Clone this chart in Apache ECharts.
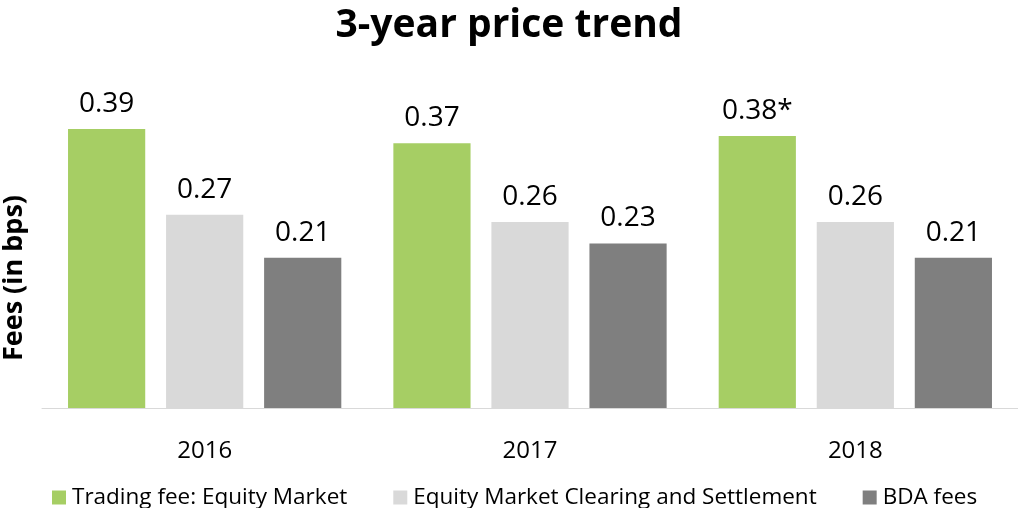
<!DOCTYPE html>
<html>
<head>
<meta charset="utf-8">
<script src="https://cdn.jsdelivr.net/npm/echarts@6/dist/echarts.min.js"></script>
<style>
  html, body { margin: 0; padding: 0; background: #fff; }
  #chart { width: 1018px; height: 508px; }
</style>
</head>
<body>
<div id="chart"></div>
<script>
// Fee levels per year, in basis points
const years = ['2016', '2017', '2018'];
const tradingFee = [0.39, 0.37, 0.38];
const clearingSettlement = [0.27, 0.26, 0.26];
const bdaFees = [0.21, 0.23, 0.21];
// 2018 trading fee carries a footnote marker
const tradingLabels = ['0.39', '0.37', '0.38*'];

const FONT = '"Open Sans", Lato, sans-serif';

function labelStyle(texts) {
  return {
    show: true,
    position: 'top',
    distance: 11,
    fontFamily: FONT,
    fontSize: 28,
    color: '#000',
    formatter: texts ? (p) => texts[p.dataIndex] : (p) => p.value.toFixed(2)
  };
}

const chart = echarts.init(document.getElementById('chart'));
chart.setOption({
  animation: false,
  title: {
    text: '3-year price trend',
    left: 'center',
    top: 1,
    textStyle: { fontFamily: FONT, fontSize: 39, fontWeight: 'bold', color: '#000' }
  },
  legend: {
    bottom: -6,
    left: 47,
    itemWidth: 14,
    itemHeight: 14,
    itemGap: 46,
    icon: 'rect',
    textStyle: { fontFamily: FONT, fontSize: 22.5, color: '#000', padding: [0, 0, 0, 1] },
    data: ['Trading fee: Equity Market', 'Equity Market Clearing and Settlement', 'BDA fees']
  },
  grid: { left: 42, right: 0, top: 86, bottom: 100, containLabel: false },
  graphic: [{
    type: 'text',
    left: 1,
    top: 195,
    rotation: Math.PI / 2,
    style: {
      text: 'Fees (in bps)',
      fontFamily: FONT,
      fontSize: 27,
      fontWeight: 'bold',
      fill: '#000'
    }
  }],
  xAxis: {
    type: 'category',
    data: years,
    axisLine: { lineStyle: { color: '#d9d9d9', width: 1 } },
    axisTick: { show: false },
    axisLabel: { fontFamily: FONT, fontSize: 24, color: '#000', margin: 31 }
  },
  yAxis: {
    type: 'value',
    min: 0,
    max: 0.45,
    axisLine: { show: false },
    axisTick: { show: false },
    axisLabel: { show: false },
    splitLine: { show: false }
  },
  series: [
    {
      name: 'Trading fee: Equity Market',
      type: 'bar',
      data: tradingFee,
      itemStyle: { color: '#a6ce64' },
      barGap: '27%',
      barCategoryGap: '16%',
      label: labelStyle(tradingLabels)
    },
    {
      name: 'Equity Market Clearing and Settlement',
      type: 'bar',
      data: clearingSettlement,
      itemStyle: { color: '#d9d9d9' },
      label: labelStyle()
    },
    {
      name: 'BDA fees',
      type: 'bar',
      data: bdaFees,
      itemStyle: { color: '#7f7f7f' },
      label: labelStyle()
    }
  ]
});
</script>
</body>
</html>
